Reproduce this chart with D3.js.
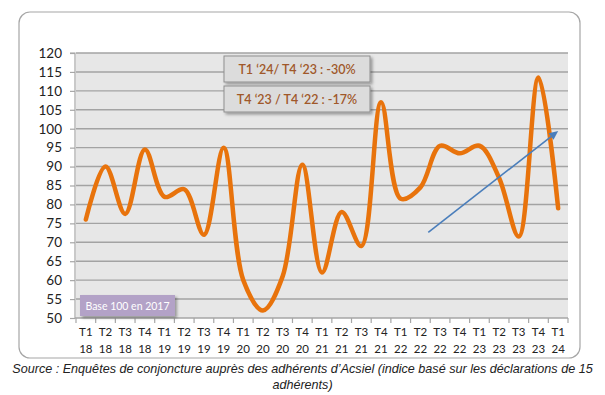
<!DOCTYPE html>
<html>
<head>
<meta charset="utf-8">
<script src="https://cdn.jsdelivr.net/npm/d3@7"></script>
<style>
  html, body { margin: 0; padding: 0; background: #ffffff; }
  svg { display: block; }
</style>
</head>
<body>
<svg id="chart" width="605" height="395"></svg>
<script>
// ---- Data ----
const quarters = ["T1","T2","T3","T4","T1","T2","T3","T4","T1","T2","T3","T4","T1","T2","T3","T4","T1","T2","T3","T4","T1","T2","T3","T4","T1"];
const years    = ["18","18","18","18","19","19","19","19","20","20","20","20","21","21","21","21","22","22","22","22","23","23","23","23","24"];
const categories = quarters.map((q, i) => q + " " + years[i]);
const values = [76, 90, 77.5, 94.5, 82, 84, 72, 95, 60, 52, 61, 90.5, 62, 78, 69, 107, 81.5, 84.5, 95.5, 93.5, 95.5, 87, 71.5, 113.5, 79];
const yTicks = [50, 55, 60, 65, 70, 75, 80, 85, 90, 95, 100, 105, 110, 115, 120];
const annotations = ["T1 \u201824/ T4 \u201823 : -30%", "T4 \u201823 / T4 \u201822 : -17%"];
const baseLabel = "Base 100 en 2017";
// trend arrow: [category index, value]
const trendArrow = [[17.4, 72.6], [24.0, 99.4]];
const sourceLines = ["Source : Enquêtes de conjoncture auprès des adhérents d\u2019Acsiel (indice basé sur les déclarations de 15", "adhérents)"];

// ---- Layout ----
const svg = d3.select("#chart");
const plot = { left: 76, right: 568, top: 53, bottom: 318 };

const defs = svg.append("defs");
const f = defs.append("filter").attr("id", "shadow").attr("x", "-20%").attr("y", "-30%").attr("width", "150%").attr("height", "180%");
f.append("feDropShadow").attr("dx", 2).attr("dy", 2).attr("stdDeviation", 1.5).attr("flood-color", "#000").attr("flood-opacity", 0.35);

// card
svg.append("rect").attr("x", 19).attr("y", 12).attr("width", 561).attr("height", 346)
  .attr("rx", 11).attr("fill", "#fff").attr("stroke", "#a6a6a6").attr("stroke-width", 1.2);

const x = d3.scaleBand().domain(categories).range([plot.left, plot.right]).padding(0);
const xi = d3.scaleLinear().domain([0, categories.length - 1])
  .range([x(categories[0]) + x.bandwidth() / 2, x(categories[categories.length - 1]) + x.bandwidth() / 2]);
const y = d3.scaleLinear().domain([50, 120]).range([plot.bottom, plot.top]);

// plot background
svg.append("rect").attr("x", plot.left).attr("y", plot.top)
  .attr("width", plot.right - plot.left).attr("height", plot.bottom - plot.top).attr("fill", "#e7e7e7");

// gridlines
svg.append("g").selectAll("line").data(yTicks.filter(t => t > 50)).join("line")
  .attr("x1", plot.left).attr("x2", plot.right)
  .attr("y1", d => y(d)).attr("y2", d => y(d))
  .attr("stroke", "#a3a3a3").attr("stroke-width", 1.4);

// y axis
const yAxis = d3.axisLeft(y).tickValues(yTicks).tickSize(5).tickPadding(8);
const gy = svg.append("g").attr("transform", `translate(${plot.left - 1},0)`).call(yAxis);
gy.select(".domain").attr("stroke", "#a6a6a6").attr("stroke-width", 1.2).attr("d", `M-5,${plot.top}H0V${plot.bottom}`);
gy.selectAll(".tick line").attr("stroke", "#a6a6a6").attr("stroke-width", 1.2);
gy.selectAll(".tick text").attr("font-family", "Lato, 'Open Sans', sans-serif").attr("font-size", 13.5).attr("fill", "#222");

// x axis
const xAxis = d3.axisBottom(x).tickSize(0).tickFormat("");
const gx = svg.append("g").attr("transform", `translate(0,${plot.bottom})`).call(xAxis);
gx.select(".domain").attr("stroke", "#a6a6a6").attr("stroke-width", 1.4).attr("d", `M${plot.left - 1},0H${plot.right}`);
// boundary tick marks
const bounds = categories.map(c => x(c)).concat([plot.right]);
gx.append("g").selectAll("line").data(bounds).join("line")
  .attr("x1", d => d).attr("x2", d => d).attr("y1", 0).attr("y2", 5)
  .attr("stroke", "#a6a6a6").attr("stroke-width", 1.2);
const lab = svg.append("g").attr("font-family", "Lato, 'Open Sans', sans-serif").attr("font-size", 11.5).attr("fill", "#222").attr("text-anchor", "middle");
lab.selectAll("text.q").data(categories).join("text").attr("class", "q")
  .attr("x", d => x(d) + x.bandwidth() / 2).attr("y", 336).text((d, i) => quarters[i]);
lab.selectAll("text.yr").data(categories).join("text").attr("class", "yr")
  .attr("x", d => x(d) + x.bandwidth() / 2).attr("y", 353).text((d, i) => years[i]);

// main line
const line = d3.line()
  .x((d, i) => x(categories[i]) + x.bandwidth() / 2)
  .y(d => y(d))
  .curve(d3.curveCatmullRom.alpha(0.5));
svg.append("path").datum(values).attr("d", line)
  .attr("fill", "none").attr("stroke", "#e8730c").attr("stroke-width", 4.5)
  .attr("stroke-linecap", "round").attr("stroke-linejoin", "round");

// trend arrow
const ax0 = xi(trendArrow[0][0]), ay0 = y(trendArrow[0][1]);
const ax1 = xi(trendArrow[1][0]), ay1 = y(trendArrow[1][1]);
const ang = Math.atan2(ay1 - ay0, ax1 - ax0);
const hl = 9, hw = 4;
const bx = ax1 - hl * Math.cos(ang), by = ay1 - hl * Math.sin(ang);
svg.append("line").attr("x1", ax0).attr("y1", ay0).attr("x2", bx).attr("y2", by)
  .attr("stroke", "#4a7ebb").attr("stroke-width", 1.6);
svg.append("path")
  .attr("d", `M${ax1},${ay1}L${bx + hw * Math.sin(ang)},${by - hw * Math.cos(ang)}L${bx - hw * Math.sin(ang)},${by + hw * Math.cos(ang)}Z`)
  .attr("fill", "#4a7ebb");

// annotation boxes
const boxes = svg.append("g");
annotations.forEach((t, i) => {
  const by0 = 56 + i * 30;
  boxes.append("rect").attr("x", 224).attr("y", by0).attr("width", 146).attr("height", 26)
    .attr("fill", "#dcdcdc").attr("stroke", "#8f8f8f").attr("stroke-width", 1).attr("filter", "url(#shadow)");
  boxes.append("text").attr("x", 297).attr("y", by0 + 17.5).attr("text-anchor", "middle")
    .attr("font-family", "Lato, 'Open Sans', sans-serif").attr("font-size", 12.5).attr("font-weight", 600)
    .attr("fill", "#a0582a").text(t);
});

// base box
svg.append("rect").attr("x", 80).attr("y", 295).attr("width", 95).attr("height", 21)
  .attr("fill", "#b3a2c7").attr("filter", "url(#shadow)");
svg.append("text").attr("x", 127.5).attr("y", 309.5).attr("text-anchor", "middle")
  .attr("font-family", "Lato, 'Open Sans', sans-serif").attr("font-size", 10.5).attr("fill", "#fff").text(baseLabel);

// source
const src = svg.append("g").attr("font-family", "'Liberation Sans', Arial, sans-serif").attr("font-style", "italic")
  .attr("font-size", 12.6).attr("fill", "#222").attr("text-anchor", "middle");
src.append("text").attr("x", 302.5).attr("y", 373).text(sourceLines[0]);
src.append("text").attr("x", 302.5).attr("y", 389).text(sourceLines[1]);
</script>
</body>
</html>
